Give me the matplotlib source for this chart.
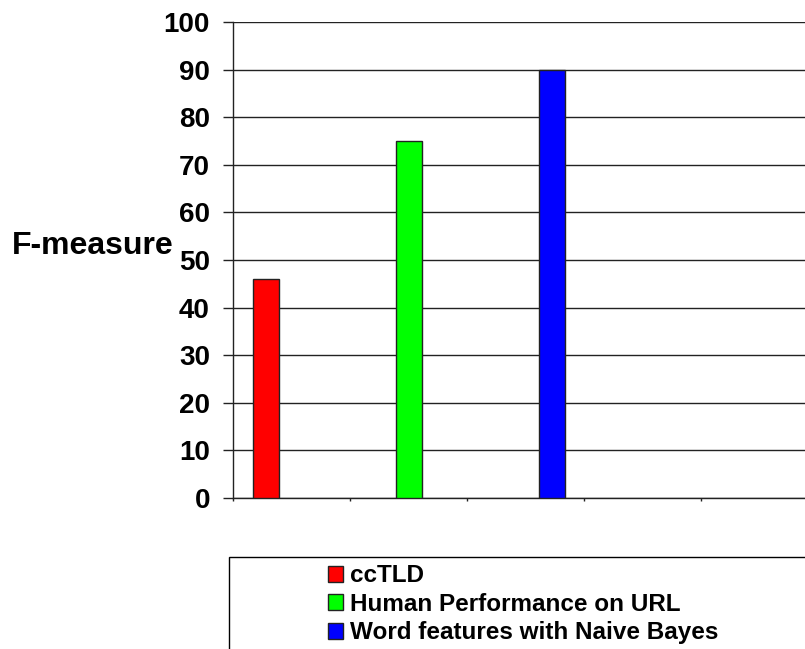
import matplotlib.pyplot as plt
from matplotlib.patches import Rectangle

plt.rcParams['font.family'] = ['Liberation Sans', 'DejaVu Sans']
plt.rcParams['font.weight'] = 'bold'

# F-measure per method
methods = ["ccTLD", "Human Performance on URL", "Word features with Naive Bayes"]
fmeasure = [46, 75, 90]
colors = ["#ff0000", "#00ff00", "#0000ff"]
yticks = list(range(0, 101, 10))

fig = plt.figure(figsize=(8.05, 6.49), dpi=100)
ax = fig.add_axes([233 / 805, 1 - 498 / 649, 1 - 233 / 805, (498 - 22) / 649])

# bars sit at 0, 1, 2; category ticks are spaced independently
positions = list(range(len(methods)))
for i in positions:
    ax.bar(i, fmeasure[i], width=0.185, color=colors[i], edgecolor="#222222",
           linewidth=1, zorder=3, label=methods[i])

ax.set_xlim(-0.231, 3.769)
ax.set_ylim(0, 100)
ax.set_yticks(yticks)
ax.set_yticklabels([str(v) for v in yticks], fontsize=20, fontweight='bold')
ax.set_xticks([-0.231 + 0.819 * k for k in range(5)])
ax.set_xticklabels([])
ax.tick_params(axis='y', length=7.2, width=1, pad=9.4, color="#222222")
ax.tick_params(axis='x', length=2.2, width=1, color="#222222")

ax.yaxis.grid(True, color="#222222", linewidth=1, zorder=0)
ax.set_axisbelow(True)
for side in ["top", "right"]:
    ax.spines[side].set_visible(False)
for side in ["left", "bottom"]:
    ax.spines[side].set_color("#222222")
    ax.spines[side].set_linewidth(1)

fig.text(12 / 805, 1 - 253.5 / 649, "F-measure", fontsize=23, fontweight='bold',
         ha='left', va='baseline')

# legend box running off the bottom-right edge
fig.patches.append(Rectangle((229 / 805, -0.1), 1, 1 - 557 / 649 + 0.1,
                             transform=fig.transFigure, facecolor='white',
                             edgecolor='black', linewidth=1))
handles, labels = ax.get_legend_handles_labels()
fig.legend(handles, labels, loc='upper left',
           bbox_to_anchor=(328 / 805, 1 - 564.5 / 649), frameon=False,
           handlelength=0.62, handleheight=0.62,
           handletextpad=0.29, labelspacing=0.22, borderaxespad=0, borderpad=0,
           prop={'weight': 'bold', 'size': 17.5})

fig.savefig("out.png", dpi=100)
